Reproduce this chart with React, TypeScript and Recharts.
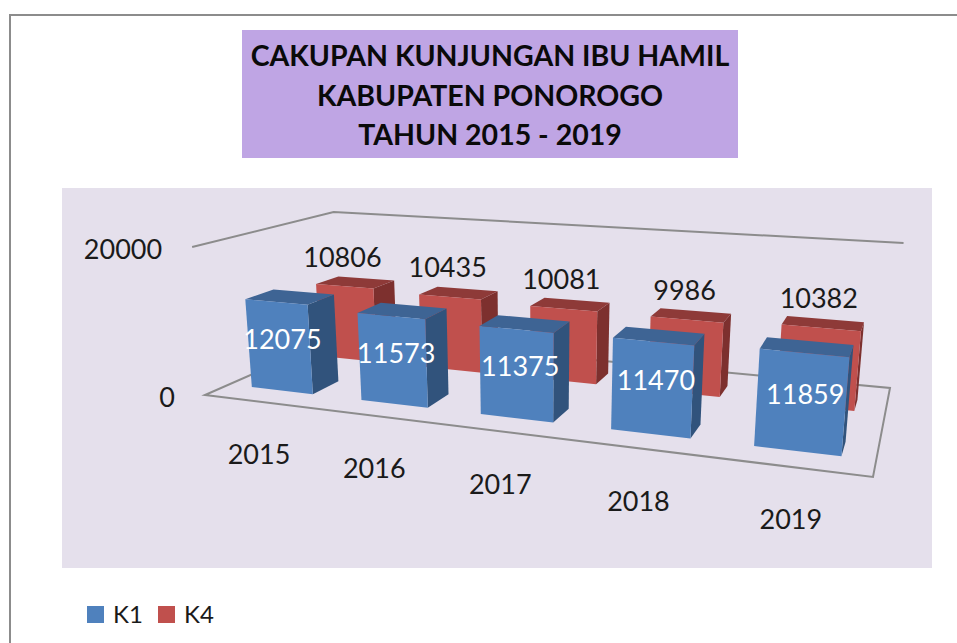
import { BarChart, Bar, XAxis, YAxis, LabelList, Legend, Customized } from "recharts";

const years = ["2015", "2016", "2017", "2018", "2019"];
const k1Values = [12075, 11573, 11375, 11470, 11859];
const k4Values = [10806, 10435, 10081, 9986, 10382];
const axisTicks = [0, 20000];
const axisMax = 20000;

const chartData = years.map((year, i) => ({ year, k1: k1Values[i], k4: k4Values[i] }));

const FONT = "Lato, sans-serif";
const W = 957;
const H = 643;

// flat plot area the library scales work in, it gets projected to the tilted box below
const plot = { left: 200, top: 200, width: 600, height: 200 };
const barSize = 68;

type Pt = [number, number];

function homography(q: Pt[]) {
  const [[x0, y0], [x1, y1], [x2, y2], [x3, y3]] = q;
  const dx1 = x1 - x2, dx2 = x3 - x2, sx = x0 - x1 + x2 - x3;
  const dy1 = y1 - y2, dy2 = y3 - y2, sy = y0 - y1 + y2 - y3;
  const den = dx1 * dy2 - dx2 * dy1;
  const g = (sx * dy2 - dx2 * sy) / den;
  const h = (dx1 * sy - sx * dy1) / den;
  const a = x1 - x0 + g * x1, b = x3 - x0 + h * x3;
  const d = y1 - y0 + g * y1, e = y3 - y0 + h * y3;
  return (u: number, v: number): Pt => {
    const w = g * u + h * v + 1;
    return [(a * u + b * v + x0) / w, (d * u + e * v + y0) / w];
  };
}

const floorMap = homography([[205, 395], [873, 477], [890, 388], [340, 336]]);

// height of the full axis at the floor corners, verticals lean away from x = 535
function project(u: number, v: number, t: number): Pt {
  const [fx, fy] = floorMap(u, v);
  const front = 148 + (172 - 148) * u;
  const back = 124 + (145 - 124) * u;
  const h = (front + (back - front) * v) * t;
  return [fx + ((fx - 535) / 3800) * h, fy - h];
}

const toU = (x: number) => (x - plot.left) / plot.width;
const toT = (y: number) => (plot.top + plot.height - y) / plot.height;
const pts = (list: Pt[]) => list.map((p) => p.join(",")).join(" ");

function Box3D(props: any) {
  const { x, y, width, v0, depth, front, top, side } = props;
  const u0 = toU(x);
  const u1 = toU(x + width);
  const t = toT(y);
  // the boxes look deeper on the left of the picture
  const v1 = v0 + depth * (1 + 0.35 * (1 - u1));
  return (
    <g>
      <polygon points={pts([project(u1, v0, 0), project(u1, v1, 0), project(u1, v1, t), project(u1, v0, t)])} fill={side} />
      <polygon points={pts([project(u0, v0, t), project(u1, v0, t), project(u1, v1, t), project(u0, v1, t)])} fill={top} />
      <polygon points={pts([project(u0, v0, 0), project(u1, v0, 0), project(u1, v0, t), project(u0, v0, t)])} fill={front} />
    </g>
  );
}

function K1Label(props: any) {
  const { x, y, width, value } = props;
  const [px, py] = project(toU(x + width / 2), 0.152, toT(y) * 0.6);
  return (
    <text x={px + 4} y={py + 1} fill="#fff" fontFamily={FONT} fontSize={27} textAnchor="middle" dominantBaseline="central">
      {value}
    </text>
  );
}

function K4Label(props: any) {
  const { x, y, width, value } = props;
  const [px, py] = project(toU(x + width / 2), 0.654, toT(y));
  return (
    <text x={px - 2} y={py - 30} fill="#1a1a1a" fontFamily={FONT} fontSize={27} textAnchor="middle" dominantBaseline="central">
      {value}
    </text>
  );
}

function YearTick(props: any) {
  const { x, payload } = props;
  const [px, py] = project(toU(x), 0, 0);
  return (
    <text x={px} y={py + 52} fill="#1a1a1a" fontFamily={FONT} fontSize={27} textAnchor="middle" dominantBaseline="central">
      {payload.value}
    </text>
  );
}

function ValueTick(props: any) {
  const { y, payload } = props;
  const [px, py] = project(0, 0, toT(y));
  return (
    <text x={px - 30} y={py + 1} fill="#1a1a1a" fontFamily={FONT} fontSize={27} textAnchor="end" dominantBaseline="central">
      {payload.value}
    </text>
  );
}

function BoxLines() {
  const wall = [project(0, 0, 1), project(0, 1, 1), project(1, 1, 1)];
  const floor = [project(0, 0, 0), project(1, 0, 0), project(1, 1, 0), project(0, 1, 0)];
  return (
    <g fill="none" stroke="#8c8c8c" strokeWidth={2}>
      <polyline points={pts(wall)} />
      <polygon points={pts(floor)} />
    </g>
  );
}

function LegendRow({ payload }: any) {
  return (
    <div style={{ display: "flex", fontFamily: FONT, fontSize: 24, color: "#1a1a1a", lineHeight: "26px" }}>
      {(payload || []).map((item: any) => (
        <div key={item.value} style={{ display: "flex", alignItems: "center", width: 71 }}>
          <span style={{ width: 17, height: 17, background: item.color, marginRight: 9 }} />
          {item.value}
        </div>
      ))}
    </div>
  );
}

const absolute = { position: "absolute" } as const;

export default function App() {
  return (
    <div style={{ ...absolute, left: 0, top: 0, width: W, height: H, overflow: "hidden", background: "#fff" }}>
      <div style={{ ...absolute, left: 9, top: 14, width: W, height: 2, background: "#8c8c8c" }} />
      <div style={{ ...absolute, left: 9, top: 14, width: 2, height: H, background: "#8c8c8c" }} />
      <div
        style={{
          ...absolute,
          left: 242,
          top: 30,
          width: 496,
          height: 128,
          background: "#bfa5e4",
          color: "#0a0a0a",
          fontFamily: FONT,
          fontWeight: 700,
          fontSize: 28.5,
          lineHeight: "39.5px",
          textAlign: "center",
          paddingTop: 6,
          boxSizing: "border-box",
          whiteSpace: "nowrap",
        }}
      >
        CAKUPAN KUNJUNGAN IBU HAMIL
        <br />
        KABUPATEN PONOROGO
        <br />
        TAHUN 2015 - 2019
      </div>
      <div style={{ ...absolute, left: 62, top: 188, width: 870, height: 380, background: "#e5e0ec" }} />
      <div style={{ ...absolute, left: 0, top: 0 }}>
        <BarChart
          width={W}
          height={H}
          data={chartData}
          barSize={barSize}
          barGap={-barSize}
          margin={{
            left: plot.left - 1,
            top: plot.top,
            right: W - plot.left - plot.width,
            bottom: H - plot.top - plot.height - 1,
          }}
        >
          <Customized component={BoxLines} />
          <XAxis dataKey="year" height={1} axisLine={false} tickLine={false} interval={0} tick={YearTick} />
          <YAxis
            width={1}
            domain={[0, axisMax]}
            ticks={axisTicks}
            axisLine={false}
            tickLine={false}
            interval={0}
            tick={ValueTick}
          />
          <Legend
            layout="horizontal"
            align="center"
            verticalAlign="middle"
            wrapperStyle={{ left: 87, top: 601, width: 160 }}
            content={LegendRow}
          />
          <Bar
            dataKey="k4"
            name="K4"
            fill="#c0504d"
            isAnimationActive={false}
            shape={(p: any) => <Box3D {...p} v0={0.654} depth={0.142} front="#c0504d" top="#8e3a38" side="#7d302e" />}
          >
            <LabelList dataKey="k4" content={K4Label} />
          </Bar>
          <Bar
            dataKey="k1"
            name="K1"
            fill="#4f81bd"
            isAnimationActive={false}
            shape={(p: any) => <Box3D {...p} v0={0.152} depth={0.146} front="#4f81bd" top="#3e6494" side="#31537c" />}
          >
            <LabelList dataKey="k1" content={K1Label} />
          </Bar>
        </BarChart>
      </div>
    </div>
  );
}
